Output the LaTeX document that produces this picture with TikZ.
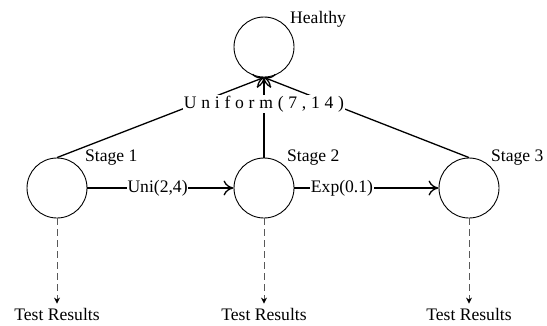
\documentclass[tikz,border=0pt]{standalone}
\usepackage{fontspec}
\setmainfont{Liberation Serif}
\usetikzlibrary{arrows.meta}
\begin{document}
\begin{tikzpicture}[x=1pt,y=-1pt,
  state/.style={circle,draw,line width=0.9pt,minimum size=60pt,inner sep=0pt},
  lbl/.style={font=\fontsize{17.6}{20}\selectfont,inner sep=1pt},
  trans/.style={line width=1.3pt,-{To[length=10pt,width=15pt,line width=1.3pt]}},
  obs/.style={line width=0.9pt,dash pattern=on 7pt off 4pt,draw=black!65,shorten >=3pt,-{Stealth[length=6pt,width=6pt,black]}},
  elbl/.style={lbl,fill=white,inner sep=0.5pt}]
\useasboundingbox (0,0) rectangle (547,325);
\node[state] (h) at (264,47) {};
\node[state] (s1) at (57,188) {};
\node[state] (s2) at (264,188) {};
\node[state] (s3) at (469,188) {};
\node[lbl,anchor=base west] (hl) at (289,23) {Healthy};
\node[lbl,anchor=base west] (l1) at (84,161) {Stage 1};
\node[lbl,anchor=base west] (l2) at (286,161) {Stage 2};
\node[lbl,anchor=base west] (l3) at (490,161) {Stage 3};
\node[lbl] (t1) at (57,314) {Test Results};
\node[lbl] (t2) at (264,314) {Test Results};
\node[lbl] (t3) at (469,314) {Test Results};
\draw[trans] (s1.north) -- (h.south);
\draw[trans] (s2.north) -- (h.south);
\draw[trans] (s3.north) -- (h.south);
\node[elbl] (u) at (264,104) {\addfontfeature{LetterSpace=27}Uniform(7,14)};
\draw[trans] (s1.east) -- node[elbl,pos=0.48] (e1) {Uni(2,4)} (s2.west);
\draw[trans] (s2.east) -- node[elbl,pos=0.33] (e2) {Exp(0.1)} (s3.west);
\draw[obs] (s1.south) -- (t1.north);
\draw[obs] (s2.south) -- (t2.north);
\draw[obs] (s3.south) -- (t3.north);
\end{tikzpicture}
\end{document}
